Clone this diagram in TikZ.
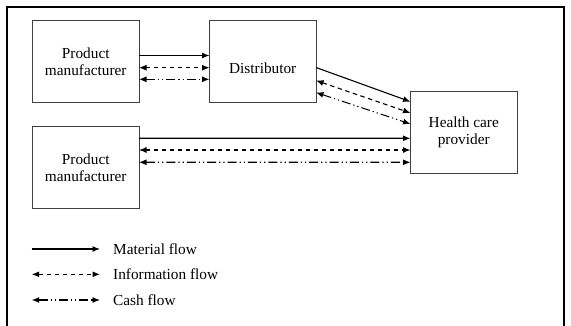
\documentclass[tikz,border=0pt]{standalone}
\usepackage{fontspec}
\setmainfont{Liberation Serif}
\usetikzlibrary{arrows.meta}
\begin{document}
\begin{tikzpicture}[x=1pt,y=-1pt,
  box/.style={draw=black!75,line width=0.9pt,rectangle,minimum width=106.5pt,minimum height=81.8pt,inner sep=0pt,outer sep=0pt,align=center,font=\rmfamily\fontsize{15.3}{16.5}\selectfont},
  flow/.style={line width=1.1pt,-{Latex[length=7.5pt,width=6pt]}},
  material/.style={flow},
  info/.style={flow,{Latex[length=7.5pt,width=6pt]}-{Latex[length=7.5pt,width=6pt]},dash pattern=on 4.5pt off 3.5pt},
  cash/.style={flow,{Latex[length=7.5pt,width=6pt]}-{Latex[length=7.5pt,width=6pt]},dash pattern=on 9pt off 3pt on 1.2pt off 3pt on 1.2pt off 3pt},
  legtext/.style={anchor=west,inner sep=0pt,font=\rmfamily\fontsize{15.3}{16.5}\selectfont}]
\useasboundingbox (0,0) rectangle (571,326);
\fill[white] (0,0) rectangle (571,326);
% frame
\draw[line width=2pt] (7.3,340) -- (7.3,6.7) -- (564,6.7) -- (564,340);
% boxes
\node[box] (pm1) at (85.75,61.6) {Product\\manufacturer};
\node[box,text height=23pt,text depth=0pt] (dist) at (262.75,61.6) {Distributor};
\node[box] (pm2) at (85.75,167.85) {Product\\manufacturer};
\node[box] (hcp) at (463.75,132.4) {Health care\\provider};
% PM1 - distributor
\draw[material] ([yshift=6.1pt]pm1.east) -- ([yshift=6.1pt]dist.west);
\draw[info] ([yshift=-6.1pt]pm1.east) -- ([yshift=-6.1pt]dist.west);
\draw[cash] ([yshift=-17.7pt]pm1.east) -- ([yshift=-17.7pt]dist.west);
% distributor - HCP
\draw[material] ([yshift=-5.9pt]dist.east) -- ([yshift=30.7pt]hcp.west);
\draw[info] ([yshift=-18.9pt]dist.east) -- ([yshift=19.4pt]hcp.west);
\draw[cash] ([yshift=-30.9pt]dist.east) -- ([yshift=8.4pt]hcp.west);
% PM2 - HCP
\draw[material] ([yshift=29.55pt]pm2.east) -- ([yshift=-5.9pt]hcp.west);
\draw[info] ([yshift=17.85pt]pm2.east) -- ([yshift=-17.6pt]hcp.west);
\draw[cash] ([yshift=5.55pt]pm2.east) -- ([yshift=-29.9pt]hcp.west);
% legend
\node[legtext] (t1) at (113,249) {Material flow};
\node[legtext] (t2) at (113,274.3) {Information flow};
\node[legtext] (t3) at (113,300) {Cash flow};
\coordinate (l1) at (31.7,249);
\coordinate (l2) at (31.7,274.3);
\coordinate (l3) at (31.7,300);
\draw[material] (l1) -- ([xshift=-13pt]t1.west);
\draw[info] (l2) -- ([xshift=-13pt]t2.west);
\draw[cash] (l3) -- ([xshift=-13pt]t3.west);
\end{tikzpicture}
\end{document}
